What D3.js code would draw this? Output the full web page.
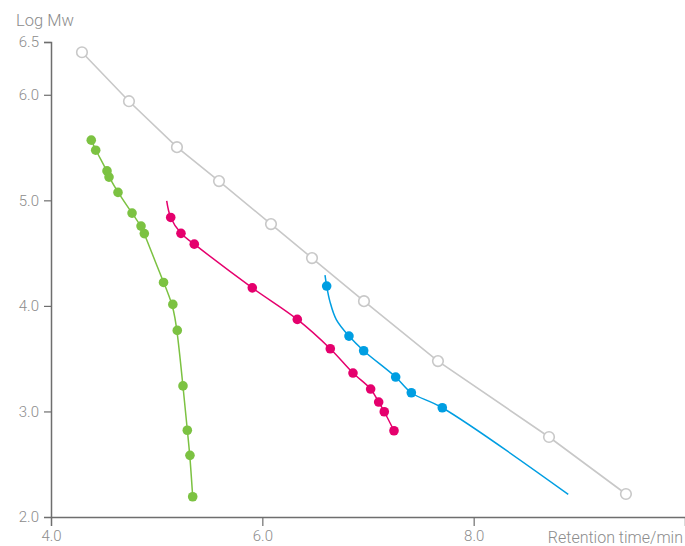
<!DOCTYPE html>
<html>
<head>
<meta charset="utf-8">
<script src="https://cdn.jsdelivr.net/npm/d3@7"></script>
<style>
  html, body { margin: 0; padding: 0; background: #fff; }
  svg text { font-family: Roboto, "Noto Sans", sans-serif; font-weight: 300; fill: #8c8c8c; }
</style>
</head>
<body>
<svg id="chart" width="685" height="546"></svg>
<script>
// Calibration standards: retention time (min) vs log molecular weight
const standardRT = [4.293, 4.738, 5.192, 5.590, 6.082, 6.470, 6.962, 7.662, 8.713, 9.441];
const standardLogMw = [6.403, 5.939, 5.504, 5.182, 4.775, 4.453, 4.045, 3.477, 2.758, 2.218];

const greenRT = [4.381, 4.423, 4.530, 4.549, 4.634, 4.767, 4.852, 4.883, 5.065, 5.153, 5.195, 5.249, 5.290, 5.315, 5.341];
const greenLogMw = [5.570, 5.475, 5.279, 5.220, 5.075, 4.879, 4.756, 4.685, 4.222, 4.014, 3.768, 3.242, 2.822, 2.584, 2.192];

const pinkRT = [5.133, 5.230, 5.356, 5.905, 6.331, 6.643, 6.858, 7.025, 7.101, 7.154, 7.246];
const pinkLogMw = [4.838, 4.687, 4.585, 4.171, 3.872, 3.594, 3.364, 3.212, 3.089, 2.997, 2.817];

const blueRT = [6.609, 6.820, 6.959, 7.262, 7.410, 7.703];
const blueLogMw = [4.188, 3.714, 3.575, 3.326, 3.177, 3.035];

// Fitted calibration curves
const pinkFitRT = [5.095, 5.133, 5.230, 5.356, 5.905, 6.331, 6.643, 6.858, 7.025, 7.101, 7.154, 7.246];
const pinkFitLogMw = [4.995, 4.838, 4.687, 4.585, 4.171, 3.872, 3.594, 3.364, 3.212, 3.089, 2.997, 2.817];

const blueFitRT = [6.593, 6.609, 6.640, 6.700, 6.820, 6.959, 7.262, 7.410, 7.703, 8.895];
const blueFitLogMw = [4.292, 4.188, 4.040, 3.870, 3.714, 3.575, 3.326, 3.177, 3.035, 2.215];

const xTicks = [4.0, 6.0, 8.0];
const yTicks = [2.0, 3.0, 4.0, 5.0, 6.0, 6.5];

const colors = { standard: "#c8c8c8", green: "#7cc242", pink: "#e5006d", blue: "#009ee2", axis: "#6e6e6e" };

const zip = (xs, ys) => xs.map((x, i) => [x, ys[i]]);

const svg = d3.select("#chart");
const x = d3.scaleLinear().domain([4, 10]).range([51, 685]);
const y = d3.scaleLinear().domain([2, 6.5]).range([517, 42]);

// Axes
const xAxis = svg.append("g").attr("transform", `translate(0,${y(2)})`)
  .call(d3.axisBottom(x).tickValues(xTicks).tickFormat(d3.format(".1f")).tickSizeOuter(0).tickSize(9).tickPadding(6));
const yAxis = svg.append("g").attr("transform", `translate(${x(4)},0)`)
  .call(d3.axisLeft(y).tickValues(yTicks).tickFormat(d3.format(".1f")).tickSizeOuter(0).tickSize(7).tickPadding(5));

[xAxis, yAxis].forEach(g => {
  g.select(".domain").attr("stroke", colors.axis).attr("stroke-width", 1.5);
  g.selectAll(".tick line").attr("stroke", colors.axis).attr("stroke-width", 1.2);
  g.selectAll(".tick text").attr("font-size", 15).attr("fill", "#8c8c8c")
    .style("font-family", "Roboto, sans-serif").style("font-weight", 300);
});
xAxis.selectAll(".tick").filter(d => d === 4).select("line").remove();
yAxis.selectAll(".tick").filter(d => d === 2).select("line").remove();
xAxis.selectAll(".tick text").attr("dy", "0.62em");

svg.append("text").attr("x", 16).attr("y", 26).attr("font-size", 16.5).text("Log Mw");
svg.append("text").attr("x", 683).attr("y", 543).attr("text-anchor", "end").attr("font-size", 16).text("Retention time/min");

// Lines
const line = d3.line().x(d => x(d[0])).y(d => y(d[1]));
const smooth = d3.line().x(d => x(d[0])).y(d => y(d[1])).curve(d3.curveCatmullRom.alpha(0.5));
const fitted = d3.line().x(d => x(d[0])).y(d => y(d[1])).curve(d3.curveBasis);

svg.append("path").datum(zip(standardRT, standardLogMw)).attr("d", line)
  .attr("fill", "none").attr("stroke", colors.standard).attr("stroke-width", 1.6);
svg.append("path").datum(zip(greenRT, greenLogMw)).attr("d", fitted)
  .attr("fill", "none").attr("stroke", colors.green).attr("stroke-width", 1.5);
svg.append("path").datum(zip(pinkFitRT, pinkFitLogMw)).attr("d", smooth)
  .attr("fill", "none").attr("stroke", colors.pink).attr("stroke-width", 1.5);
svg.append("path").datum(zip(blueFitRT, blueFitLogMw)).attr("d", smooth)
  .attr("fill", "none").attr("stroke", colors.blue).attr("stroke-width", 1.5);

// Points
svg.append("g").selectAll("circle").data(zip(standardRT, standardLogMw)).join("circle")
  .attr("cx", d => x(d[0])).attr("cy", d => y(d[1])).attr("r", 5.3)
  .attr("fill", "#fff").attr("stroke", colors.standard).attr("stroke-width", 1.6);

[[greenRT, greenLogMw, colors.green], [pinkRT, pinkLogMw, colors.pink], [blueRT, blueLogMw, colors.blue]]
  .forEach(([xs, ys, c]) => {
    svg.append("g").selectAll("circle").data(zip(xs, ys)).join("circle")
      .attr("cx", d => x(d[0])).attr("cy", d => y(d[1])).attr("r", 4.8).attr("fill", c);
  });
</script>
</body>
</html>
